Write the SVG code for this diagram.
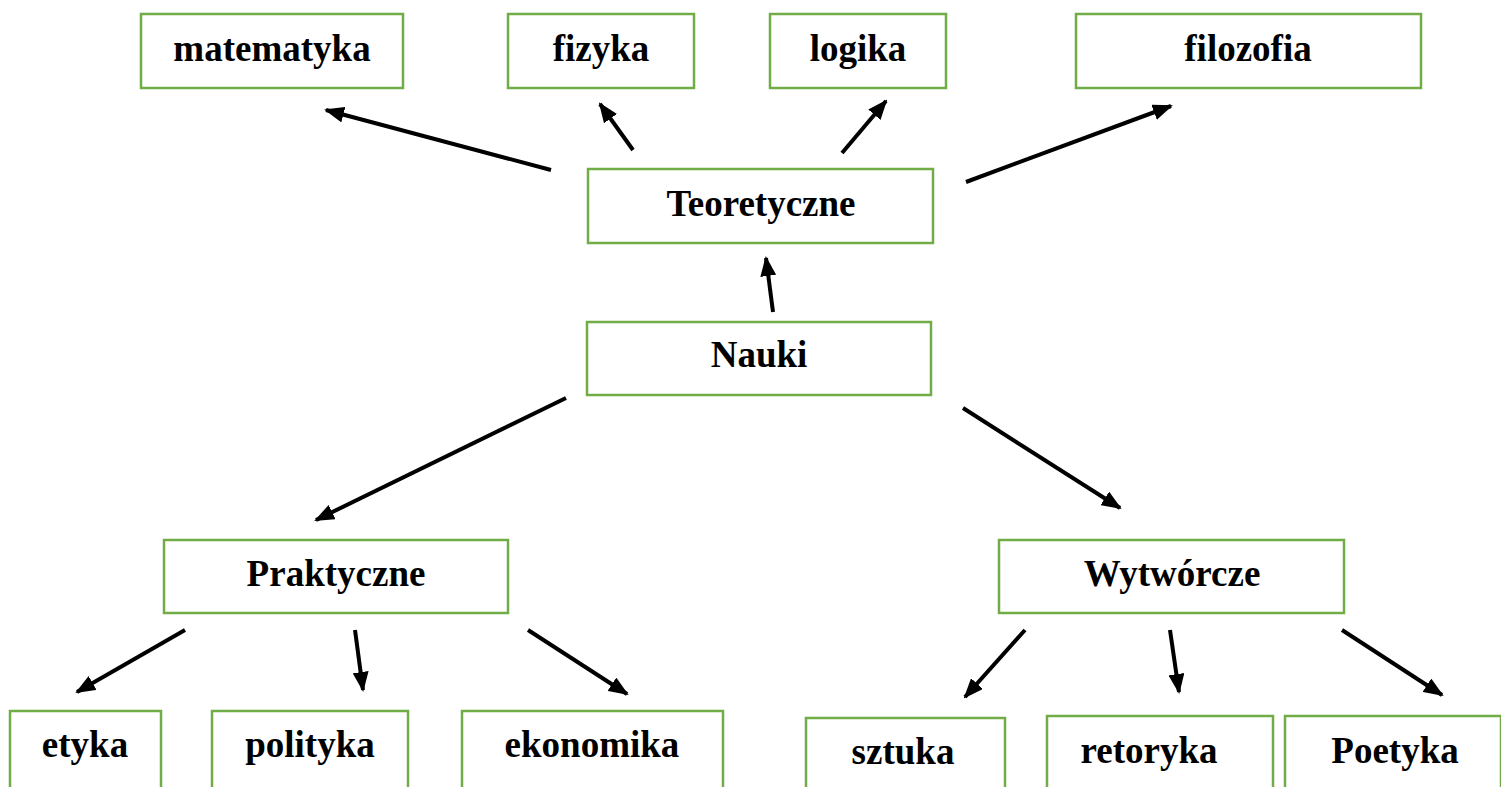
<svg xmlns="http://www.w3.org/2000/svg" width="1501" height="787" viewBox="0 0 1501 787">
<style>
.box{fill:#fff;stroke:#70AD47;stroke-width:2.5}
.lbl{font-family:"Liberation Serif","Times New Roman",serif;font-weight:bold;font-size:37px;fill:#000;text-anchor:middle}
.arr{stroke:#000;stroke-width:4;fill:none;marker-end:url(#ah)}
</style>
<defs>
<marker id="ah" markerUnits="userSpaceOnUse" markerWidth="20" markerHeight="16" refX="18" refY="8" orient="auto">
<path d="M0,0 L20,8 L0,16 Z" fill="#000"/>
</marker>
</defs>
<rect width="1501" height="787" fill="#fff"/>
<g id="matematyka"><rect class="box" x="141" y="14" width="262" height="74"/><text class="lbl" x="272" y="61">matematyka</text></g>
<g id="fizyka"><rect class="box" x="508" y="14" width="186" height="74"/><text class="lbl" x="601" y="61">fizyka</text></g>
<g id="logika"><rect class="box" x="770" y="14" width="176" height="74"/><text class="lbl" x="858" y="61">logika</text></g>
<g id="filozofia"><rect class="box" x="1076" y="14" width="345" height="74"/><text class="lbl" x="1248" y="61">filozofia</text></g>
<g id="teoretyczne"><rect class="box" x="588" y="169" width="345" height="74"/><text class="lbl" x="761" y="216">Teoretyczne</text></g>
<g id="nauki"><rect class="box" x="587" y="322" width="344" height="73"/><text class="lbl" x="759" y="367">Nauki</text></g>
<g id="praktyczne"><rect class="box" x="164" y="540" width="344" height="73"/><text class="lbl" x="336" y="586">Praktyczne</text></g>
<g id="wytworcze"><rect class="box" x="999" y="540" width="345" height="73"/><text class="lbl" x="1172" y="586">Wytwórcze</text></g>
<g id="etyka"><rect class="box" x="10" y="711" width="151" height="85"/><text class="lbl" x="85" y="757">etyka</text></g>
<g id="polityka"><rect class="box" x="212" y="711" width="196" height="85"/><text class="lbl" x="310" y="757">polityka</text></g>
<g id="ekonomika"><rect class="box" x="462" y="711" width="261" height="85"/><text class="lbl" x="592" y="757">ekonomika</text></g>
<g id="sztuka"><rect class="box" x="806" y="718" width="199" height="85"/><text class="lbl" x="903" y="764">sztuka</text></g>
<g id="retoryka"><rect class="box" x="1047" y="716" width="226" height="85"/><text class="lbl" x="1149" y="763">retoryka</text></g>
<g id="poetyka"><rect class="box" x="1285" y="716" width="216" height="85"/><text class="lbl" x="1395" y="763">Poetyka</text></g>
<g id="connectors">
<line class="arr" x1="551" y1="170" x2="326" y2="110"/>
<line class="arr" x1="633" y1="150" x2="600" y2="104"/>
<line class="arr" x1="842" y1="153" x2="886" y2="101"/>
<line class="arr" x1="966" y1="182" x2="1171" y2="106"/>
<line class="arr" x1="773" y1="312" x2="766" y2="258"/>
<line class="arr" x1="566" y1="398" x2="316" y2="520"/>
<line class="arr" x1="963" y1="408" x2="1120" y2="508"/>
<line class="arr" x1="185" y1="630" x2="77" y2="692"/>
<line class="arr" x1="355" y1="630" x2="363" y2="690"/>
<line class="arr" x1="528" y1="630" x2="627" y2="694"/>
<line class="arr" x1="1025" y1="630" x2="965" y2="697"/>
<line class="arr" x1="1170" y1="630" x2="1179" y2="692"/>
<line class="arr" x1="1342" y1="630" x2="1442" y2="695"/>
</g>
</svg>
